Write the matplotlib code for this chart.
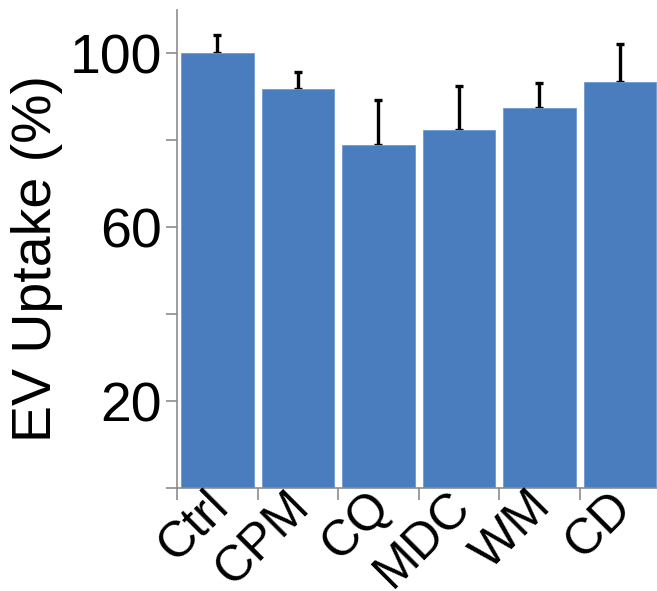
import matplotlib.pyplot as plt
from matplotlib.transforms import ScaledTranslation

plt.rcParams['font.family'] = ['Liberation Sans', 'DejaVu Sans']

# values
groups = ["Ctrl", "CPM", "CQ", "MDC", "WM", "CD"]
uptake = [100.0, 91.9, 79.0, 82.3, 87.4, 93.5]
err_up = [4.2, 3.8, 10.2, 10.3, 5.9, 8.7]

bar_color = '#4a7dbd'
axis_grey = '#8c8c8c'

fig = plt.figure(figsize=(6.57, 5.91), dpi=100)
ax = fig.add_axes([0.2694, 0.1743, 0.7306, 0.8088])

x = list(range(len(groups)))
ax.bar(x, uptake, width=0.9, color=bar_color, edgecolor='#6f9ad0', linewidth=0.6, zorder=2)
# upper error only; the lower cap sits under the bar
ax.errorbar(x, uptake, yerr=[[0] * len(err_up), err_up], fmt='none',
            ecolor='black', elinewidth=2.4, capsize=3, capthick=2.4, zorder=1)

ax.set_xlim(-0.5, 5.46)
ax.set_ylim(0, 110)

# y axis: ticks every 20, labels only on 20/60/100
ax.set_yticks([0, 20, 40, 60, 80, 100])
ax.set_yticklabels(["", "20", "", "60", "", "100"], fontsize=40)
ax.tick_params(axis='y', direction='out', length=8, width=1.2, color=axis_grey, pad=3)

# x axis: tick marks between bars, labels placed by hand
ax.set_xticks([i - 0.5 for i in x])
ax.set_xticklabels([])
ax.tick_params(axis='x', direction='out', length=8.5, width=1.2, color=axis_grey)

trans = ax.get_xaxis_transform() + ScaledTranslation(0.0, 0.05, fig.dpi_scale_trans)
for i, g in enumerate(groups):
    ax.text(i - 0.15, 0, g, transform=trans, fontsize=36, rotation=45,
            ha='right', va='top', rotation_mode='anchor')

fig.text(37 / 657, 1 - 259 / 591, "EV Uptake (%)", fontsize=40, rotation=90,
         ha='center', va='center')

for s in ['top', 'right']:
    ax.spines[s].set_visible(False)
for s in ['left', 'bottom']:
    ax.spines[s].set_color(axis_grey)
    ax.spines[s].set_linewidth(1.2)

fig.savefig("out.png", dpi=100)
